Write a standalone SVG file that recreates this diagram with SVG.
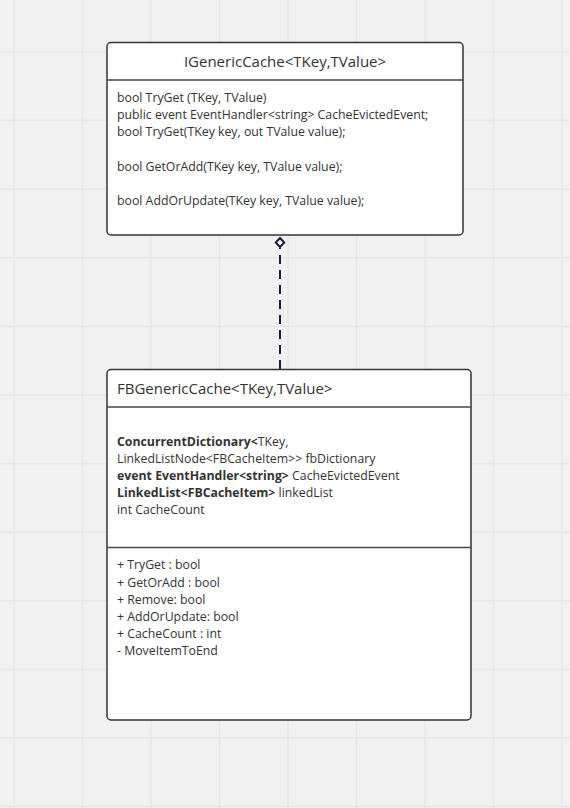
<svg xmlns="http://www.w3.org/2000/svg" width="570" height="808" viewBox="0 0 570 808">
<defs>
<style>
.grid line{stroke:#e7e7e7;stroke-width:1.5}
.box{fill:#ffffff;stroke:#333333;stroke-width:1.5}
.div{stroke:#444444;stroke-width:1.5}
.title{font-family:"Open Sans","Liberation Sans",sans-serif;font-size:15px;fill:#333333}
.txt{font-family:"Open Sans","Liberation Sans",sans-serif;font-size:12.3px;fill:#333333}
.b{font-weight:bold}
.conn{stroke:#1b1b3a;stroke-width:2;fill:none}
.head{fill:#ffffff;stroke:#1b1b3a;stroke-width:2}
</style>
</defs>
<rect x="0" y="0" width="570" height="808" fill="#f1f1f1"/>
<g class="grid">
<line x1="14" y1="0" x2="14" y2="808"/>
<line x1="82.5" y1="0" x2="82.5" y2="808"/>
<line x1="151" y1="0" x2="151" y2="808"/>
<line x1="219.5" y1="0" x2="219.5" y2="808"/>
<line x1="288" y1="0" x2="288" y2="808"/>
<line x1="356.5" y1="0" x2="356.5" y2="808"/>
<line x1="425" y1="0" x2="425" y2="808"/>
<line x1="493.5" y1="0" x2="493.5" y2="808"/>
<line x1="562" y1="0" x2="562" y2="808"/>
<line x1="0" y1="52" x2="570" y2="52"/>
<line x1="0" y1="120.6" x2="570" y2="120.6"/>
<line x1="0" y1="189.2" x2="570" y2="189.2"/>
<line x1="0" y1="257.8" x2="570" y2="257.8"/>
<line x1="0" y1="326.4" x2="570" y2="326.4"/>
<line x1="0" y1="395" x2="570" y2="395"/>
<line x1="0" y1="463.6" x2="570" y2="463.6"/>
<line x1="0" y1="532.2" x2="570" y2="532.2"/>
<line x1="0" y1="600.8" x2="570" y2="600.8"/>
<line x1="0" y1="669.4" x2="570" y2="669.4"/>
<line x1="0" y1="738" x2="570" y2="738"/>
<line x1="0" y1="806.6" x2="570" y2="806.6"/>
</g>
<g id="connectors">
<line class="conn" x1="280" y1="369" x2="280" y2="248" stroke-dasharray="9 6"/>
<path class="head" d="M280,238 L284.2,242.5 L280,247 L275.8,242.5 Z"/>
</g>
<g id="IGenericCache">
<rect class="box" x="107" y="42.5" width="356" height="192.5" rx="4"/>
<line class="div" x1="107" y1="80" x2="463" y2="80"/>
<text class="title" x="285" y="67" text-anchor="middle">IGenericCache&lt;TKey,TValue&gt;</text>
<text class="txt" x="117" y="102">bool TryGet (TKey, TValue)</text>
<text class="txt" x="117" y="119.2">public event EventHandler&lt;string&gt; CacheEvictedEvent;</text>
<text class="txt" x="117" y="136.4">bool TryGet(TKey key, out TValue value);</text>
<text class="txt" x="117" y="170.8">bool GetOrAdd(TKey key, TValue value);</text>
<text class="txt" x="117" y="205.2">bool AddOrUpdate(TKey key, TValue value);</text>
</g>
<g id="FBGenericCache">
<rect class="box" x="107" y="369.5" width="364" height="350.5" rx="4"/>
<line class="div" x1="107" y1="407" x2="471" y2="407"/>
<line class="div" x1="107" y1="547.5" x2="471" y2="547.5"/>
<text class="title" x="117" y="393.5">FBGenericCache&lt;TKey,TValue&gt;</text>
<text class="txt" x="117" y="445.5"><tspan class="b">ConcurrentDictionary&lt;</tspan>TKey,</text>
<text class="txt" x="117" y="462.7">LinkedListNode&lt;FBCacheItem&gt;&gt; fbDictionary</text>
<text class="txt" x="117" y="480"><tspan class="b">event EventHandler&lt;string&gt;</tspan> CacheEvictedEvent</text>
<text class="txt" x="117" y="497.2"><tspan class="b">LinkedList&lt;FBCacheItem&gt;</tspan> linkedList</text>
<text class="txt" x="117" y="514.4">int CacheCount</text>
<text class="txt" x="117" y="569.3">+ TryGet : bool</text>
<text class="txt" x="117" y="586.5">+ GetOrAdd : bool</text>
<text class="txt" x="117" y="603.7">+ Remove: bool</text>
<text class="txt" x="117" y="620.9">+ AddOrUpdate: bool</text>
<text class="txt" x="117" y="638.1">+ CacheCount : int</text>
<text class="txt" x="117" y="655.3">- MoveItemToEnd</text>
</g>
</svg>
